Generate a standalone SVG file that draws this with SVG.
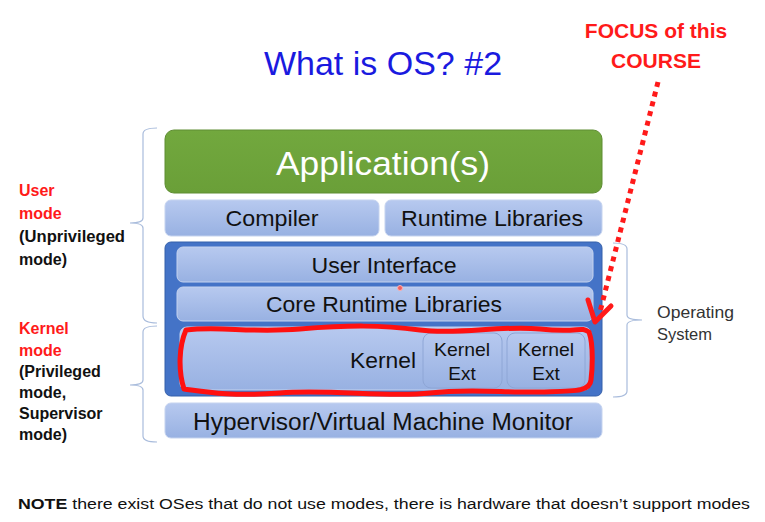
<svg xmlns="http://www.w3.org/2000/svg" width="765" height="522" viewBox="0 0 765 522">
  <defs>
    <linearGradient id="layerFill" x1="0" y1="0" x2="0" y2="1">
      <stop offset="0" stop-color="#b7c9ef"/>
      <stop offset="1" stop-color="#98b1e2"/>
    </linearGradient>
    <linearGradient id="appFill" x1="0" y1="0" x2="0" y2="1">
      <stop offset="0" stop-color="#72a83e"/>
      <stop offset="1" stop-color="#6a9f38"/>
    </linearGradient>
  </defs>
  <style>
    .layer { fill: url(#layerFill); stroke: #c5d3ef; stroke-width: 1; }
    .ext { fill: url(#layerFill); stroke: #8ea6d6; stroke-width: 1; }
    .lbl { font-family: "Liberation Sans", Arial, sans-serif; fill: #111; text-anchor: middle; }
    .brace { fill: none; stroke: #a9bcdc; stroke-width: 1.2; }
    .side { font-family: "Liberation Sans", Arial, sans-serif; font-size: 16px; font-weight: bold; }
    .red { fill: #ff1a1a; }
  </style>
  <rect width="765" height="522" fill="#ffffff"/>

  <!-- title -->
  <text x="383" y="75" font-family="Liberation Sans, Arial, sans-serif" font-size="34" fill="#1a1adf" text-anchor="middle">What is OS? #2</text>

  <!-- callout -->
  <g id="focus-label" font-family="Liberation Sans, Arial, sans-serif" font-size="21" font-weight="bold" fill="#ff1a1a" text-anchor="middle">
    <text x="656" y="38">FOCUS of this</text>
    <text x="656" y="68">COURSE</text>
  </g>

  <!-- layer stack -->
  <g id="applications">
    <rect x="165" y="130" width="437" height="63" rx="9" fill="url(#appFill)" stroke="#5e8d33" stroke-width="1"/>
    <text class="lbl" x="383" y="175" font-size="34" textLength="214" lengthAdjust="spacingAndGlyphs" style="fill:#ffffff">Application(s)</text>
  </g>
  <g id="compiler">
    <rect class="layer" x="165" y="200" width="214" height="36" rx="6"/>
    <text class="lbl" x="272" y="226" font-size="22" textLength="93" lengthAdjust="spacingAndGlyphs">Compiler</text>
  </g>
  <g id="runtime-libraries">
    <rect class="layer" x="385" y="200" width="217" height="36" rx="6"/>
    <text class="lbl" x="492" y="226" font-size="22" textLength="182" lengthAdjust="spacingAndGlyphs">Runtime Libraries</text>
  </g>
  <g id="operating-system">
    <rect x="165" y="242" width="437" height="154" rx="6" fill="#4473c7" stroke="#3560aa" stroke-width="1"/>
  </g>
  <g id="user-interface">
    <rect class="layer" x="177" y="247" width="416" height="35" rx="6"/>
    <text class="lbl" x="384" y="273" font-size="22" textLength="145" lengthAdjust="spacingAndGlyphs">User Interface</text>
  </g>
  <g id="core-runtime-libraries">
    <rect class="layer" x="177" y="287" width="416" height="34" rx="6"/>
    <text class="lbl" x="384" y="312" font-size="22" textLength="236" lengthAdjust="spacingAndGlyphs">Core Runtime Libraries</text>
  </g>
  <g id="kernel">
    <rect class="layer" x="180" y="327" width="411" height="63" rx="7"/>
    <text class="lbl" x="383" y="368" font-size="22" textLength="66" lengthAdjust="spacingAndGlyphs">Kernel</text>
  </g>
  <g id="kernel-ext-1">
    <rect class="ext" x="423" y="333" width="79" height="55" rx="8"/>
    <text class="lbl" x="462" y="356" font-size="19" textLength="56" lengthAdjust="spacingAndGlyphs">Kernel</text>
    <text class="lbl" x="462" y="380" font-size="19">Ext</text>
  </g>
  <g id="kernel-ext-2">
    <rect class="ext" x="507" y="333" width="78" height="55" rx="8"/>
    <text class="lbl" x="546" y="356" font-size="19" textLength="56" lengthAdjust="spacingAndGlyphs">Kernel</text>
    <text class="lbl" x="546" y="380" font-size="19">Ext</text>
  </g>
  <g id="hypervisor">
    <rect class="layer" x="165" y="403" width="437" height="35" rx="6"/>
    <text class="lbl" x="383" y="430" font-size="23" textLength="380" lengthAdjust="spacingAndGlyphs">Hypervisor/Virtual Machine Monitor</text>
  </g>

  <!-- small pointer dot -->
  <circle cx="400" cy="288" r="2.5" fill="#f06060" stroke="#ffb0b0" stroke-width="1"/>

  <!-- braces and connectors -->
  <g id="connectors">
    <path class="brace" d="M157,128 Q143,128 143,134 L143,218 Q143,223 130,223 Q143,223 143,228 L143,316 Q143,323 157,323"/>
    <path class="brace" d="M157,326 Q143,326 143,332 L143,380 Q143,385 130,385 Q143,385 143,390 L143,436 Q143,442 157,442"/>
    <path class="brace" d="M613,243 Q627,243 627,249 L627,315 Q627,320 642,320 Q627,320 627,325 L627,391 Q627,397 613,397"/>

    <!-- hand-drawn highlight round the kernel -->
    <path d="M186,330 C220,326 250,333 300,329 S380,325 420,330 S500,325 540,329 S580,326 589,332 C594,346 592,372 591,380 C590,392 575,391 540,392 S470,388 430,393 S330,389 280,393 S200,391 184,389 C178,370 179,346 186,330 Z" fill="none" stroke="#ff1010" stroke-width="5" stroke-linejoin="round"/>

    <!-- dotted pointer from the callout -->
    <path d="M658,82 L600,312" fill="none" stroke="#ff1a1a" stroke-width="5" stroke-dasharray="5 5"/>
    <polyline points="588,300 595,322 611,306" fill="none" stroke="#ff1a1a" stroke-width="5" stroke-linejoin="round" stroke-linecap="round"/>
  </g>

  <!-- side labels -->
  <g id="user-mode" class="side">
    <text x="19" y="196" class="red">User</text>
    <text x="19" y="219" class="red">mode</text>
    <text x="19" y="242" fill="#111" textLength="106" lengthAdjust="spacingAndGlyphs">(Unprivileged</text>
    <text x="19" y="265" fill="#111">mode)</text>
  </g>
  <g id="kernel-mode" class="side">
    <text x="19" y="334" class="red">Kernel</text>
    <text x="19" y="356" class="red">mode</text>
    <text x="19" y="377" fill="#111">(Privileged</text>
    <text x="19" y="398" fill="#111">mode,</text>
    <text x="19" y="419" fill="#111">Supervisor</text>
    <text x="19" y="440" fill="#111">mode)</text>
  </g>
  <g id="os-label" font-family="Liberation Sans, Arial, sans-serif" font-size="16.5" fill="#333">
    <text x="657" y="318" textLength="77" lengthAdjust="spacingAndGlyphs">Operating</text>
    <text x="657" y="340">System</text>
  </g>

  <!-- footnote -->
  <text x="18" y="509" font-family="Liberation Sans, Arial, sans-serif" font-size="15.5" fill="#111" textLength="732" lengthAdjust="spacingAndGlyphs"><tspan font-weight="bold">NOTE</tspan> there exist OSes that do not use modes, there is hardware that doesn’t support modes</text>
</svg>
